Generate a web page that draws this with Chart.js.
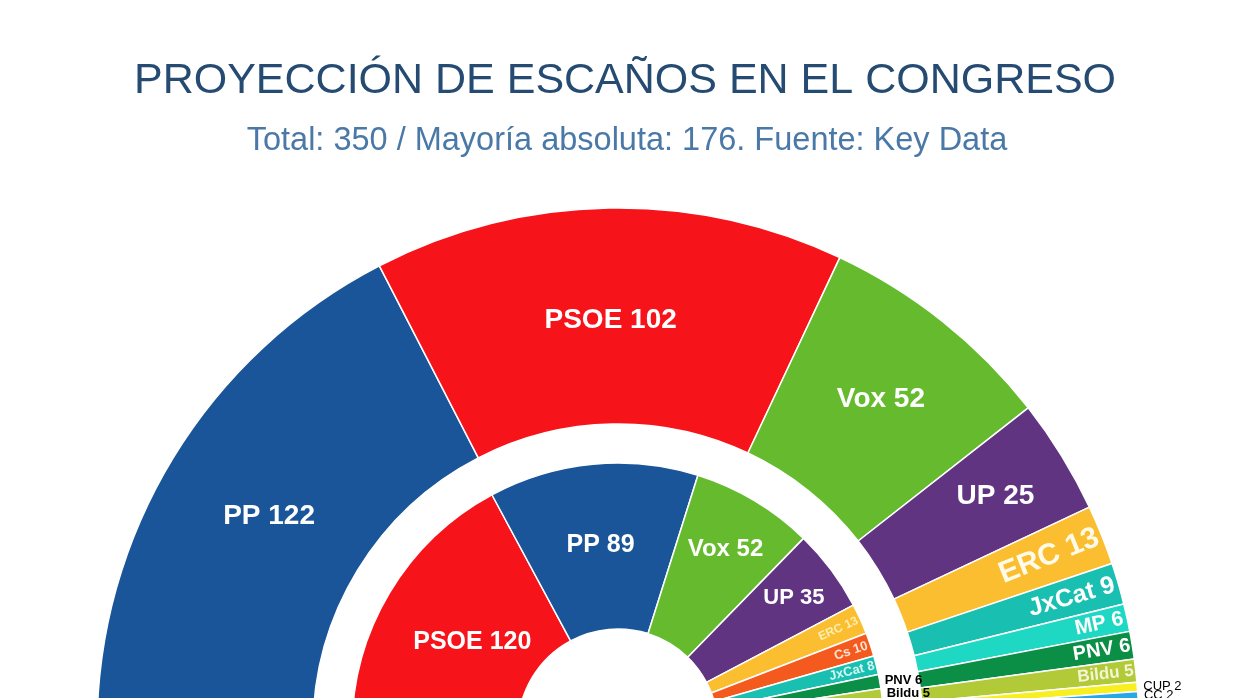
<!DOCTYPE html>
<html>
<head>
<meta charset="utf-8">
<script src="https://cdn.jsdelivr.net/npm/chart.js@4.4.1/dist/chart.umd.min.js"></script>
<style>
  html, body { margin: 0; padding: 0; background: #fff; overflow: hidden; }
  #wrap { position: absolute; left: 0; top: 0; width: 1248px; height: 760px; }
</style>
</head>
<body>
<div id="wrap"><canvas id="seatsChart"></canvas></div>
<script>
const title = 'PROYECCIÓN DE ESCAÑOS EN EL CONGRESO';
const subtitle = 'Total: 350 / Mayoría absoluta: 176. Fuente: Key Data';

// anillo exterior: proyección Key Data
const projParties = ['PP', 'PSOE', 'Vox', 'UP', 'ERC', 'JxCat', 'MP', 'PNV', 'Bildu', 'CUP', 'CC', 'BNG', 'NA+', 'PRC', 'TE'];
const projSeats = [122, 102, 52, 25, 13, 9, 6, 6, 5, 2, 2, 2, 2, 1, 1];

// anillo interior: resultado actual
const resParties = ['PSOE', 'PP', 'Vox', 'UP', 'ERC', 'Cs', 'JxCat', 'PNV', 'Bildu', 'MP', 'CUP', 'CC', 'NA+', 'BNG', 'PRC', 'TE'];
const resSeats = [120, 89, 52, 35, 13, 10, 8, 6, 5, 3, 2, 2, 2, 1, 1, 1];

const partyColors = {
  'PP': '#1a5599', 'PSOE': '#f6141a', 'Vox': '#65bb2d', 'UP': '#613481',
  'ERC': '#fbbe30', 'Cs': '#f45a1e', 'JxCat': '#19c0b1', 'MP': '#1fd8c4',
  'PNV': '#0b8e45', 'Bildu': '#b3ca38', 'CUP': '#f7ef1f', 'CC': '#26a7e6',
  'BNG': '#7cc5ec', 'NA+': '#d23c3c', 'PRC': '#c4d600', 'TE': '#0c7b42'
};

// estilo de etiquetas: h = horizontal dentro, rad = girada junto al borde, out = fuera
const projLabelStyle = [
  {t: 'h', r: 0.48, size: 28},
  {t: 'h', r: 0.48, size: 28},
  {t: 'h', r: 0.54, size: 28},
  {t: 'h', r: 0.64, size: 28},
  {t: 'rad', pad: 4, size: 30, color: '#fffbe8'},
  {t: 'rad', pad: 4, size: 25},
  {t: 'rad', pad: 4, size: 21},
  {t: 'rad', pad: 2, size: 20},
  {t: 'rad', pad: 2, size: 17, color: '#f3f5d6'},
  {t: 'out', pad: 6, size: 13, color: '#000', bold: false},
  {t: 'out', pad: 6, size: 13, color: '#000', bold: false}
];
const resLabelStyle = [
  {t: 'h', r: 0.42, size: 25},
  {t: 'h', r: 0.51, size: 25},
  {t: 'h', r: 0.66, size: 24},
  {t: 'h', r: 0.72, size: 22},
  {t: 'rad', pad: 3, size: 12, color: '#fdeeb0'},
  {t: 'rad', pad: 3, size: 13, color: '#ffe2d2'},
  {t: 'rad', pad: 2, size: 13, color: '#d6f5f1'},
  {t: 'out', pad: 5, size: 13, color: '#000'},
  {t: 'out', pad: 5, size: 13, color: '#000'}
];

const FONT = '"Liberation Sans", Arial, sans-serif';

const seatLabels = {
  id: 'seatLabels',
  afterDatasetsDraw(chart) {
    const {ctx} = chart;
    const rings = [
      [0, projParties, projSeats, projLabelStyle],
      [2, resParties, resSeats, resLabelStyle]
    ];
    rings.forEach(([di, names, seats, styles]) => {
      chart.getDatasetMeta(di).data.forEach((arc, i) => {
        const s = styles[i];
        if (!s) return;
        const {x, y, startAngle, endAngle, innerRadius, outerRadius} =
          arc.getProps(['x', 'y', 'startAngle', 'endAngle', 'innerRadius', 'outerRadius'], true);
        const mid = (startAngle + endAngle) / 2;
        const text = names[i] + ' ' + seats[i];
        ctx.save();
        ctx.font = (s.bold === false ? '' : 'bold ') + s.size + 'px ' + FONT;
        ctx.fillStyle = s.color || '#fff';
        ctx.textBaseline = 'middle';
        if (s.t === 'h') {
          const r = innerRadius + (outerRadius - innerRadius) * s.r;
          ctx.textAlign = 'center';
          ctx.fillText(text, x + Math.cos(mid) * r, y + Math.sin(mid) * r);
        } else if (s.t === 'rad') {
          ctx.translate(x, y);
          ctx.rotate(mid);
          ctx.textAlign = 'right';
          ctx.fillText(text, outerRadius - s.pad, 0);
        } else {
          const r = outerRadius + s.pad;
          ctx.textAlign = 'left';
          ctx.fillText(text, x + Math.cos(mid) * r, y + Math.sin(mid) * r);
        }
        ctx.restore();
      });
    });

    // títulos
    ctx.save();
    ctx.textAlign = 'center';
    ctx.textBaseline = 'alphabetic';
    ctx.fillStyle = '#264b72';
    ctx.font = '43px ' + FONT;
    ctx.fillText(title, 625, 93);
    ctx.fillStyle = '#4a78a7';
    ctx.font = '32.5px ' + FONT;
    ctx.fillText(subtitle, 627, 150);
    ctx.restore();
  }
};

const ctx = document.getElementById('seatsChart').getContext('2d');
new Chart(ctx, {
  type: 'doughnut',
  data: {
    labels: projParties,
    datasets: [{
      data: projSeats,
      backgroundColor: projParties.map(p => partyColors[p]),
      borderColor: '#fff',
      borderWidth: 1.5,
      weight: 216
    }, {
      // hueco blanco entre anillos
      data: [350],
      backgroundColor: 'rgba(0,0,0,0)',
      borderWidth: 0,
      weight: 39
    }, {
      data: resSeats,
      backgroundColor: resParties.map(p => partyColors[p]),
      borderColor: '#fff',
      borderWidth: 1.5,
      weight: 166
    }]
  },
  options: {
    responsive: true,
    maintainAspectRatio: false,
    animation: false,
    rotation: -90,
    circumference: 180,
    radius: 521,
    cutout: '19.2%',
    layout: { padding: { left: 97, right: 109, top: 208, bottom: 31 } },
    plugins: {
      legend: { display: false },
      tooltip: { enabled: false }
    }
  },
  plugins: [seatLabels]
});
</script>
</body>
</html>
